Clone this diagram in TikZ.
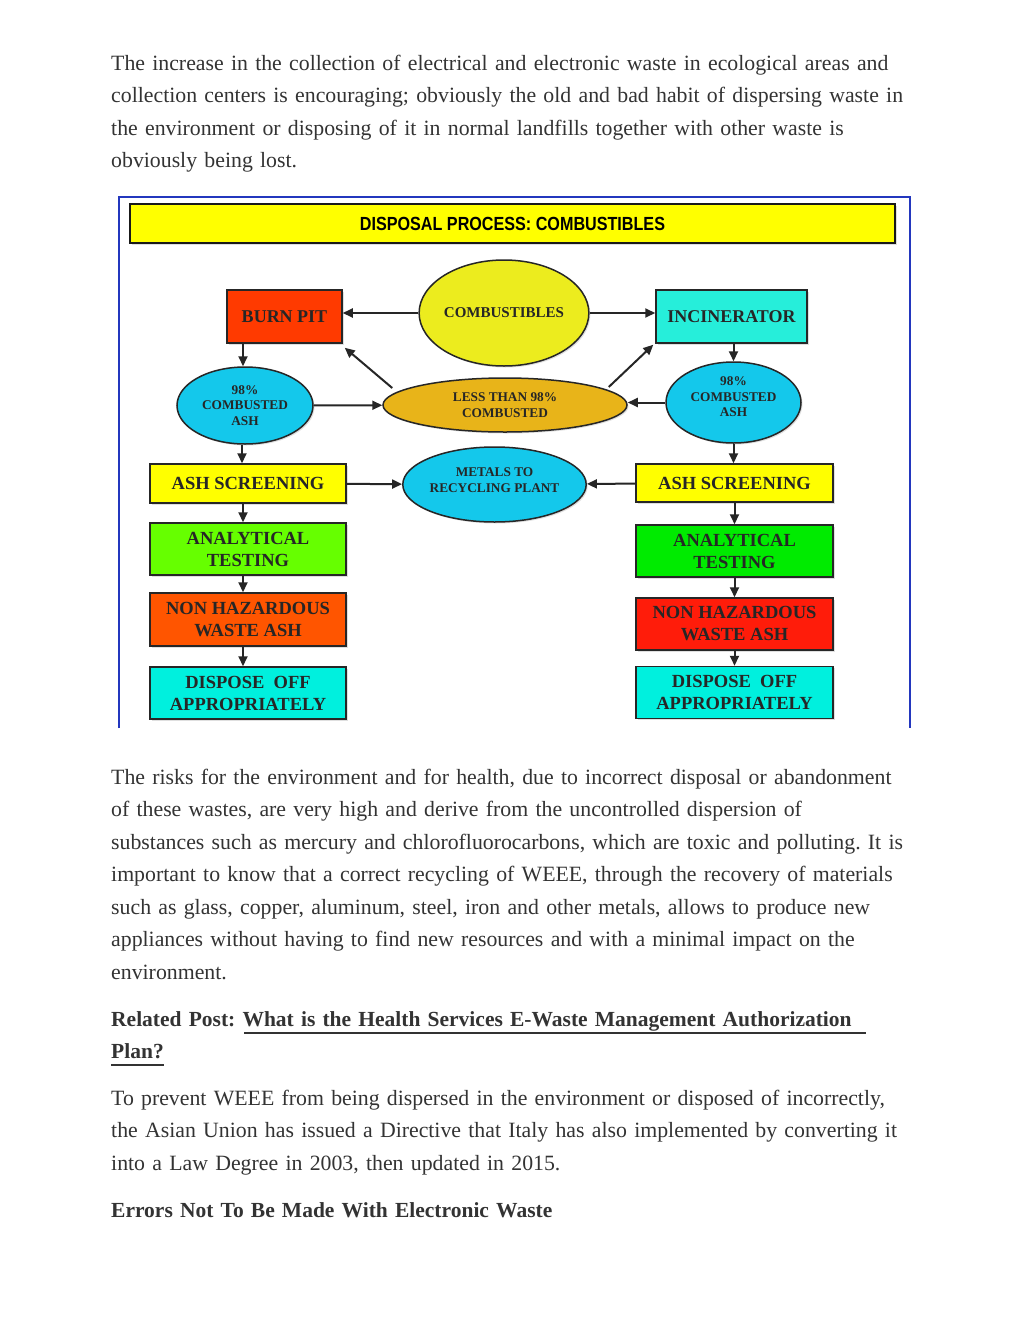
\documentclass[tikz,border=0pt]{standalone}
\usepackage{fontspec}
\setmainfont{Liberation Serif}
\newfontfamily\titlesans[FakeStretch=0.85]{Liberation Sans}
\usetikzlibrary{shapes.geometric,arrows.meta,shadows,calc}
\definecolor{PageText}{RGB}{51,51,51}
\definecolor{FrameBlue}{RGB}{35,55,190}
\definecolor{TitleYellow}{RGB}{255,255,0}
\definecolor{BurnRed}{RGB}{255,58,0}
\definecolor{IncCyan}{RGB}{38,238,218}
\definecolor{CombYellow}{RGB}{236,236,30}
\definecolor{AshBlue}{RGB}{20,200,235}
\definecolor{LessGold}{RGB}{232,180,25}
\definecolor{ScreenYellow}{RGB}{255,255,0}
\definecolor{TestLime}{RGB}{102,255,0}
\definecolor{TestGreen}{RGB}{0,235,0}
\definecolor{HazOrange}{RGB}{255,85,0}
\definecolor{HazRed}{RGB}{255,28,10}
\definecolor{DisposeCyan}{RGB}{0,240,222}
\frenchspacing

\begin{document}
\begin{tikzpicture}[x=1pt,y=-1pt,
  para/.style={anchor=base west,inner sep=0pt,text width=905pt,align=left,text=PageText,font=\fontsize{21.8}{32.5}\selectfont},
  parahead/.style={para,font=\bfseries\fontsize{21.5}{32.5}\selectfont},
  shade/.style={drop shadow={shadow xshift=1.5pt,shadow yshift=-1.5pt,opacity=0.25}},
  box/.style n args={3}{rectangle,draw=black!85,line width=1.5pt,fill=#1,minimum width=#2pt,minimum height=#3pt,inner sep=0pt,align=center,text=black!85,font=\bfseries\fontsize{18.5}{22}\selectfont,shade},
  oval/.style n args={3}{ellipse,draw=black!85,line width=1.5pt,fill=#1,minimum width=#2pt,minimum height=#3pt,inner sep=0pt,align=center,text=black!85,font=\bfseries\fontsize{13.3}{15.5}\selectfont,shade},
  arr/.style={draw=black!85,line width=2pt,-{Triangle[length=10pt,width=9pt]}}]
\useasboundingbox (0,0) rectangle (1024,1325);
\fill[white] (0,0) rectangle (1024,1325);

% text above the chart
\node[para] (intro) at (111,70) {The increase in the collection of electrical and electronic waste in ecological areas and\\
collection centers is encouraging; obviously the old and bad habit of dispersing waste in\\
the environment or disposing of it in normal landfills together with other waste is\\
obviously being lost.};

% chart frame and title
\draw[FrameBlue,line width=2pt] (119,728) -- (119,197) -- (910,197) -- (910,728);
\node[rectangle,draw=black!90,line width=2pt,fill=TitleYellow,minimum width=765pt,minimum height=39pt,
  font=\titlesans\bfseries\fontsize{19}{22}\selectfont,shade] (title) at (512.5,223.5) {DISPOSAL PROCESS: COMBUSTIBLES};

\node[box={BurnRed}{115}{53},font=\bfseries\fontsize{18}{22}\selectfont] (bp) at (284.5,316.5) {BURN PIT};
\node[oval={CombYellow}{168}{106},font=\bfseries\fontsize{15}{18}\selectfont] (comb) at (504,313) {COMBUSTIBLES};
\node[box={IncCyan}{151}{53},font=\bfseries\fontsize{18}{22}\selectfont] (inc) at (731.5,316.5) {INCINERATOR};
\node[oval={AshBlue}{136}{77}] (cl) at (245,405.5) {98\%\\COMBUSTED\\ASH};
\node[oval={LessGold}{244}{54}] (less) at (505,405) {LESS THAN 98\%\\COMBUSTED};
\node[oval={AshBlue}{135}{81}] (cr) at (733.5,402.5) {98\%\\COMBUSTED\\ASH\\[-4.5pt]};
\node[oval={AshBlue}{163}{75}] (met) at (494.5,484.5) {METALS TO\\RECYCLING PLANT\\[-6.5pt]};

\foreach \n/\y/\h/\c/\t in {ashl/483.5/39/ScreenYellow/{ASH SCREENING},
  anl/549/52/TestLime/{ANALYTICAL\\TESTING},
  hzl/619.5/53/HazOrange/{NON HAZARDOUS\\WASTE ASH},
  dpl/693/52/DisposeCyan/{DISPOSE~~OFF\\APPROPRIATELY}} {
  \node[box={\c}{196}{\h}] (\n) at (248,\y) {\t};
}
\foreach \n/\y/\h/\c/\t in {ashr/483/38/ScreenYellow/{ASH SCREENING},
  anr/551/52/TestGreen/{ANALYTICAL\\TESTING},
  hzr/624/52/HazRed/{NON HAZARDOUS\\WASTE ASH},
  dpr/692.5/52/DisposeCyan/{DISPOSE~~OFF\\APPROPRIATELY}} {
  \node[box={\c}{197}{\h}] (\n) at (734.5,\y) {\t};
}

% connectors
\draw[arr] (comb.west) -- (comb.west -| bp.east);
\draw[arr] (comb.east) -- (comb.east -| inc.west);
\draw[arr] ([xshift=-2pt]cl.north |- bp.south) -- ([xshift=-2pt]cl.north);
\draw[arr] (cr.north |- inc.south) -- (cr.north);
\draw[arr] ($(less.west)+(10,-17)$) -- ($(bp.south east)+(2,4)$);
\draw[arr] ($(less.east)+(-19,-18)$) -- ($(inc.south west)+(-2,1)$);
\draw[arr] (cl) -- (less);
\draw[arr] (cr.west) -- (cr.west -| less.east);
\draw[arr] ([xshift=-3pt]cl.south) -- ([xshift=-3pt]cl.south |- ashl.north);
\draw[arr] (cr.south) -- (cr.south |- ashr.north);
\draw[arr] (ashl) -- (met);
\draw[arr] (ashr) -- (met);
\foreach \a/\b in {ashl/anl,anl/hzl,hzl/dpl}
  \draw[arr] ([xshift=-5pt]\a.south) -- ([xshift=-5pt]\b.north);
\foreach \a/\b in {ashr/anr,anr/hzr,hzr/dpr}
  \draw[arr] (\a) -- (\b);

% text below the chart
\node[para] (risks) at (111,784) {The risks for the environment and for health, due to incorrect disposal or abandonment\\
of these wastes, are very high and derive from the uncontrolled dispersion of\\
substances such as mercury and chlorofluorocarbons, which are toxic and polluting. It is\\
important to know that a correct recycling of WEEE, through the recovery of materials\\
such as glass, copper, aluminum, steel, iron and other metals, allows to produce new\\
appliances without having to find new resources and with a minimal impact on the\\
environment.};
\node[parahead] (related) at (111,1026) {Related Post: What is the Health Services E-Waste Management Authorization\\
Plan?};
\draw[PageText,line width=2.5pt] (244,1033) -- (866,1033);
\draw[PageText,line width=2.5pt] (111,1065) -- (164,1065);
\node[para] (prevent) at (111,1105) {To prevent WEEE from being dispersed in the environment or disposed of incorrectly,\\
the Asian Union has issued a Directive that Italy has also implemented by converting it\\
into a Law Degree in 2003, then updated in 2015.};
\node[parahead] (errors) at (111,1217) {Errors Not To Be Made With Electronic Waste};
\end{tikzpicture}
\end{document}
